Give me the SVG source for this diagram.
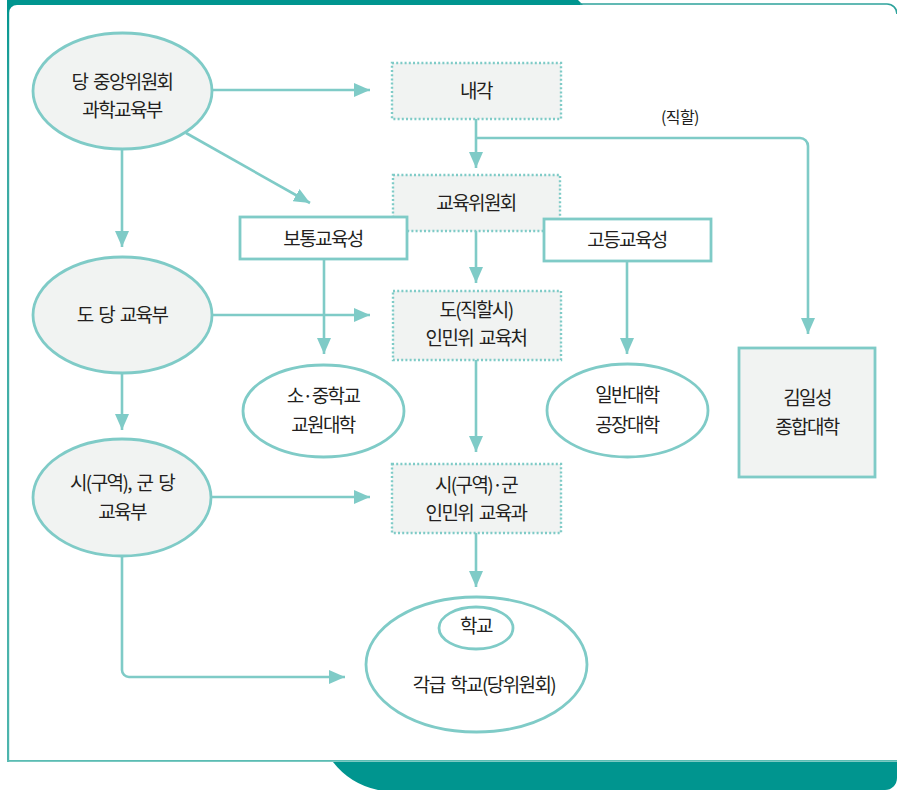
<svg xmlns="http://www.w3.org/2000/svg" width="897" height="790" viewBox="0 0 897 790">
<defs>
<linearGradient id="edge" x1="0" y1="0" x2="0" y2="1">
<stop offset="0" stop-color="#00958f"/>
<stop offset="0.15" stop-color="#3aaaa3"/>
<stop offset="1" stop-color="#4db5ad"/>
</linearGradient>
<marker id="ah" markerUnits="userSpaceOnUse" markerWidth="16" markerHeight="14" refX="16" refY="7" orient="auto">
<path d="M0,0 L16,7 L0,14 z" fill="#7fcbc7"/>
</marker>
<style>
.t{font-family:"Noto Sans CJK KR","Noto Sans",sans-serif;font-size:19px;fill:#231f20;text-anchor:middle;letter-spacing:-1.6px;word-spacing:3px}
.s{font-size:16px;letter-spacing:-0.6px}
.ell{fill:#f1f3f2;stroke:#7fcbc7;stroke-width:2.8}
.ellw{fill:#ffffff;stroke:#7fcbc7;stroke-width:2.8}
.dot{fill:#f1f3f2;stroke:#7fcbc7;stroke-width:2.4;stroke-dasharray:2 2.2}
.box{fill:#ffffff;stroke:#7fcbc7;stroke-width:2.8}
.boxg{fill:#f1f3f2;stroke:#7fcbc7;stroke-width:2.8}
.c{fill:none;stroke:#7fcbc7;stroke-width:2.6;marker-end:url(#ah)}
</style>
</defs>
<g id="frame">
<rect x="0" y="0" width="897" height="790" fill="#ffffff"/>
<path d="M7,0 H578 L583,5 H7 z" fill="#00958f"/>
<path d="M7,0 H20 V5 H17 A8,8 0 0 0 9,13 V20 H7 z" fill="#00958f"/>
<rect x="7" y="5" width="2.2" height="757" fill="url(#edge)"/>
<path d="M580,4 H887 A10,10 0 0 1 897,14" fill="none" stroke="#2ea39c" stroke-width="1.6"/>
<rect x="7" y="760" width="890" height="1.8" fill="#5bbcb3"/>
<path d="M333,762 H897 V778 A12,12 0 0 1 885,790 H378 Q350,784 333,762 z" fill="#00958f"/>
</g>
<g id="connectors">
<line class="c" x1="212" y1="90" x2="370" y2="90"/>
<line class="c" x1="122" y1="149" x2="122" y2="247"/>
<line class="c" x1="186" y1="133" x2="310" y2="203"/>
<line class="c" x1="476" y1="119" x2="476" y2="168"/>
<path class="c" d="M476,138 H800 A8,8 0 0 1 808,146 V334"/>
<line class="c" x1="476" y1="231" x2="476" y2="283"/>
<line class="c" x1="212" y1="315" x2="370" y2="315"/>
<line class="c" x1="324" y1="259" x2="324" y2="354"/>
<line class="c" x1="627" y1="261" x2="627" y2="354"/>
<line class="c" x1="122" y1="373" x2="122" y2="430"/>
<line class="c" x1="476" y1="360" x2="476" y2="452"/>
<line class="c" x1="211" y1="497" x2="370" y2="497"/>
<line class="c" x1="476" y1="533" x2="476" y2="587"/>
<path class="c" d="M122,556 V670 A7,7 0 0 0 129,677 H345"/>
</g>
<g id="n-central">
<ellipse class="ell" cx="122.5" cy="91" rx="89.5" ry="58"/>
<text class="t" x="122" y="89">당 중앙위원회</text>
<text class="t" x="122" y="117">과학교육부</text>
</g>
<g id="n-cabinet">
<rect class="dot" x="392" y="63" width="169" height="56"/>
<text class="t" x="476" y="98">내각</text>
</g>
<text class="t s" x="680" y="123">(직할)</text>
<g id="n-edu-committee">
<rect class="dot" x="393" y="175" width="167" height="56"/>
<text class="t" x="476" y="210">교육위원회</text>
</g>
<g id="n-general-edu">
<rect class="box" x="240" y="217" width="167" height="42"/>
<text class="t" x="323" y="246">보통교육성</text>
</g>
<g id="n-higher-edu">
<rect class="box" x="544" y="219" width="167" height="42"/>
<text class="t" x="627" y="247">고등교육성</text>
</g>
<g id="n-province-party">
<ellipse class="ell" cx="122.5" cy="315" rx="89.5" ry="58"/>
<text class="t" x="122" y="322">도 당 교육부</text>
</g>
<g id="n-province-office">
<rect class="dot" x="393" y="291" width="168" height="69"/>
<text class="t" x="476" y="317">도(직할시)</text>
<text class="t" x="476" y="345">인민위 교육처</text>
</g>
<g id="n-teacher-college">
<ellipse class="ellw" cx="323.5" cy="411" rx="80.5" ry="46"/>
<text class="t" x="323" y="403">소·중학교</text>
<text class="t" x="323" y="432">교원대학</text>
</g>
<g id="n-university">
<ellipse class="ellw" cx="627.5" cy="410.5" rx="80.5" ry="46.5"/>
<text class="t" x="627" y="402">일반대학</text>
<text class="t" x="627" y="432">공장대학</text>
</g>
<g id="n-kimilsung">
<rect class="boxg" x="739" y="348" width="136" height="129"/>
<text class="t" x="807" y="405">김일성</text>
<text class="t" x="807" y="434">종합대학</text>
</g>
<g id="n-city-party">
<ellipse class="ell" cx="122" cy="497.5" rx="89" ry="58.5"/>
<text class="t" x="122" y="490">시(구역), 군 당</text>
<text class="t" x="122" y="519">교육부</text>
</g>
<g id="n-city-office">
<rect class="dot" x="392" y="464" width="169" height="69"/>
<text class="t" x="476" y="492">시(구역)·군</text>
<text class="t" x="476" y="520">인민위 교육과</text>
</g>
<g id="n-schools">
<ellipse class="ellw" cx="476.5" cy="664.5" rx="110.5" ry="67.5"/>
<ellipse class="ellw" cx="476" cy="628" rx="37" ry="21"/>
<text class="t" x="476" y="633">학교</text>
<text class="t" x="484" y="692">각급 학교(당위원회)</text>
</g>
</svg>
